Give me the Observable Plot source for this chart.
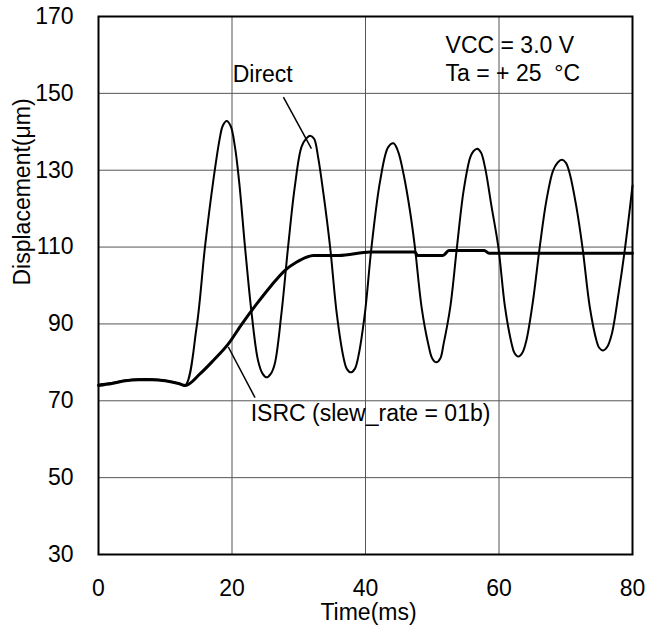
<!DOCTYPE html>
<html>
<head>
<meta charset="utf-8">
<script src="https://cdn.jsdelivr.net/npm/d3@7"></script>
<script src="https://cdn.jsdelivr.net/npm/@observablehq/plot@0.6"></script>
<style>
  html, body { margin: 0; padding: 0; background: #fff; }
  #chart { width: 657px; height: 632px; }
</style>
</head>
<body>
<div id="chart"></div>
<script>
// Time axis (ms) and displacement (µm)
const xTicks = [0, 20, 40, 60, 80];
const yTicks = [30, 50, 70, 90, 110, 130, 150, 170];

const directTime = [0, 2, 4, 6, 8, 10, 12, 13.0, 14.7, 15.95, 17.2, 18.2, 18.6, 19.2, 19.8, 20.45, 21.1, 21.95, 22.95, 23.9, 24.6, 25.2, 25.8, 26.4, 27.4, 28.4, 29.4, 30.4, 31.1, 31.7, 32.3, 32.9, 33.7, 34.7, 35.7, 36.7, 37.2, 37.8, 38.4, 38.9, 39.9, 40.9, 42.2, 43.4, 44.2, 44.9, 45.7, 46.7, 47.4, 48.4, 49.4, 50.0, 50.6, 51.2, 51.7, 52.7, 53.7, 54.7, 55.7, 56.2, 56.75, 57.3, 57.9, 58.9, 59.9, 60.9, 61.9, 62.3, 62.9, 63.5, 64.1, 65.1, 66.1, 67.1, 68.1, 68.8, 69.4, 70.0, 70.6, 71.6, 72.5, 73.6, 74.6, 75.0, 75.6, 76.2, 76.9, 77.9, 78.9, 80];
const directValue = [74.2, 74.6, 75.3, 75.6, 75.6, 75.2, 74.5, 74.0, 89.2, 110, 127.3, 138.6, 141.5, 142.8, 141.5, 136.0, 126.5, 110, 92.6, 80.5, 77.0, 76.1, 77.0, 79.6, 92.6, 110, 125.6, 136, 138.2, 139, 138.2, 133.4, 123.9, 110, 92.6, 81.3, 78.3, 77.4, 78.3, 81.3, 92.6, 110, 127.3, 136, 137, 134.8, 129.0, 119.0, 110, 94.4, 84.8, 81.0, 80, 81.0, 84.8, 94.4, 110, 124.7, 133.4, 135.0, 135.6, 134.6, 130.8, 120.4, 110, 94.4, 84.8, 82.5, 81.5, 82.5, 85.7, 96.1, 110, 122.1, 129.9, 132.0, 132.7, 132.0, 129.1, 120.4, 110, 94.4, 85.7, 83.8, 83.1, 84.0, 87.4, 97.8, 110, 126];

const isrcTime = [0, 2, 4, 6, 8, 10, 12, 13.0, 15.2, 17.2, 19.45, 21.45, 23.7, 25.9, 27.9, 29.7, 31.2, 32.2, 36, 40.7, 44, 47.4, 47.8, 51.6, 52.5, 57.8, 58.5, 80];
const isrcValue = [74.0, 74.5, 75.2, 75.5, 75.5, 75.2, 74.5, 74.0, 77, 80.5, 84.8, 89.9, 95.2, 100, 103.9, 106.1, 107.4, 107.8, 107.8, 108.7, 108.7, 108.7, 107.8, 107.8, 109.1, 109.1, 108.4, 108.4];

const labels = ["Direct", "ISRC (slew_rate = 01b)", "VCC = 3.0 V", "Ta = + 25 \u00a0°C"];

const font = "'Liberation Sans', Arial, Helvetica, sans-serif";

const chart = Plot.plot({
  width: 657,
  height: 632,
  marginLeft: 98,
  marginRight: 25,
  marginTop: 16,
  marginBottom: 78,
  style: { fontFamily: font, fontSize: "23px", color: "#000", background: "#fff" },
  x: { domain: [0, 80], ticks: xTicks },
  y: { domain: [30, 170], ticks: yTicks },
  marks: [
    Plot.gridX(xTicks.slice(1, -1), { stroke: "#555", strokeOpacity: 1, strokeWidth: 1 }),
    Plot.gridY(yTicks.slice(1, -1), { stroke: "#555", strokeOpacity: 1, strokeWidth: 1 }),
    Plot.axisX(xTicks, { tickSize: 0, tickPadding: 25, label: null, fontSize: 23 }),
    Plot.axisY(yTicks, { tickSize: 0, tickPadding: 25, label: null, fontSize: 23 }),
    Plot.text(["Time(ms)"], { frameAnchor: "bottom", lineAnchor: "middle", dy: 58, dx: 3, fontSize: 23 }),
    Plot.text(["Displacement(\u03bcm)"], { frameAnchor: "left", rotate: -90, dx: -76, fontSize: 23 }),
    Plot.line(isrcTime, { x: isrcTime, y: isrcValue, stroke: "#000", strokeWidth: 3, curve: "monotone-x" }),
    Plot.line(directTime, { x: directTime, y: directValue, stroke: "#000", strokeWidth: 2, curve: "catmull-rom" }),
    // leader lines
    Plot.link([0], { x1: 27.7, y1: 149, x2: 31.9, y2: 135.6, stroke: "#000", strokeWidth: 1.5 }),
    Plot.link([0], { x1: 19.45, y1: 84.0, x2: 23.45, y2: 70.8, stroke: "#000", strokeWidth: 1.5 }),
    // annotations
    Plot.text([labels[0]], { x: 20.1, y: 155.0, textAnchor: "start", fontSize: 23 }),
    Plot.text([labels[1]], { x: 22.8, y: 66.6, textAnchor: "start", fontSize: 23 }),
    Plot.text([labels[2]], { x: 52.0, y: 162.4, textAnchor: "start", fontSize: 23 }),
    Plot.text([labels[3]], { x: 52.0, y: 155.1, textAnchor: "start", fontSize: 23 }),
    Plot.frame({ stroke: "#000", strokeWidth: 2 })
  ]
});
document.getElementById("chart").appendChild(chart);
</script>
</body>
</html>
